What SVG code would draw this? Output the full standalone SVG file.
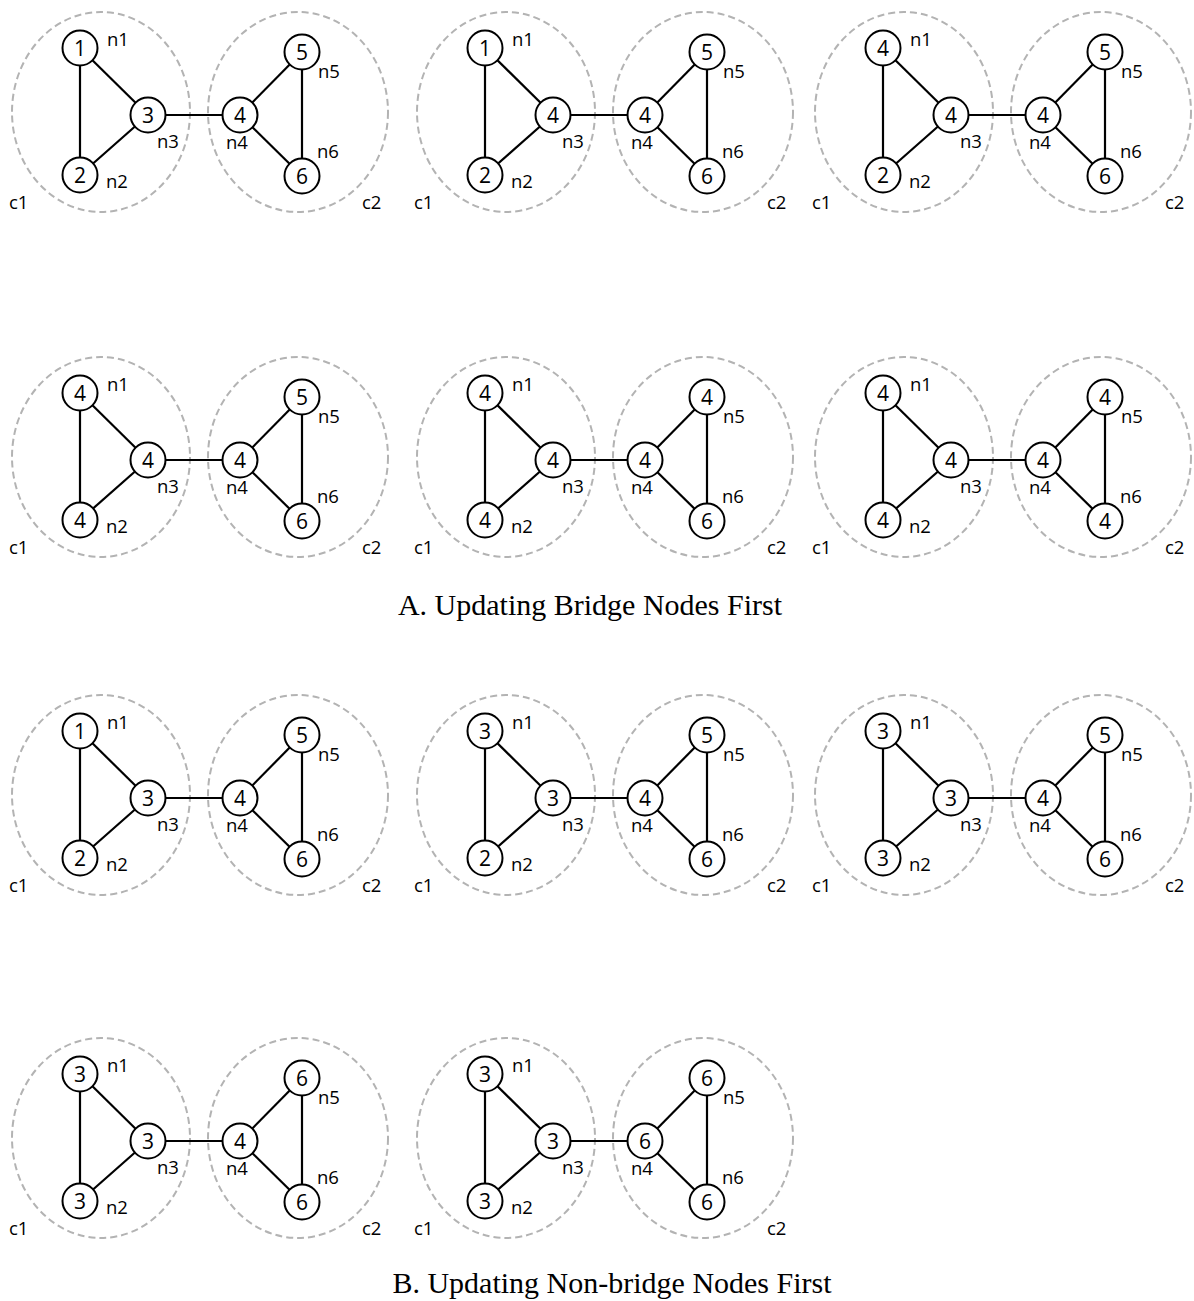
<svg xmlns="http://www.w3.org/2000/svg" xmlns:xlink="http://www.w3.org/1999/xlink" width="1194" height="1301" viewBox="0 0 1194 1301">
<style>
.cl{fill:none;stroke:#b3b3b3;stroke-width:2;stroke-dasharray:7 4}
.e{stroke:#000;stroke-width:2.2}
.n{fill:#fff;stroke:#000;stroke-width:2}
.v{font-family:"Open Sans","Liberation Sans",sans-serif;font-size:21px;text-anchor:middle;dominant-baseline:central;fill:#000}
.l{font-family:"Open Sans","Liberation Sans",sans-serif;font-size:18.5px;fill:#000}
.cap{font-family:"Liberation Serif",serif;font-size:30px;text-anchor:middle;fill:#000}
</style>
<defs>
<g id="base">
<ellipse class="cl" cx="101" cy="112" rx="89" ry="100"/>
<ellipse class="cl" cx="298" cy="112" rx="90" ry="100"/>
<text class="l" x="9" y="209">c1</text>
<text class="l" x="362" y="209">c2</text>
<text class="l" x="107" y="46">n1</text>
<text class="l" x="106" y="188">n2</text>
<text class="l" x="157" y="148">n3</text>
<text class="l" x="226" y="149">n4</text>
<text class="l" x="318" y="78">n5</text>
<text class="l" x="317" y="158">n6</text>
</g>
<g id="edges">
<line class="e" x1="80" y1="48" x2="80" y2="175"/>
<line class="e" x1="80" y1="48" x2="148" y2="115"/>
<line class="e" x1="80" y1="175" x2="148" y2="115"/>
<line class="e" x1="148" y1="115" x2="240" y2="115"/>
<line class="e" x1="240" y1="115" x2="302" y2="52"/>
<line class="e" x1="240" y1="115" x2="302" y2="176"/>
<line class="e" x1="302" y1="52" x2="302" y2="176"/>
</g>
</defs>

<!-- Row 1 -->
<g id="p1" transform="translate(0,0)">
<use xlink:href="#base"/>
<g id="p1-connectors"><use xlink:href="#edges"/></g>
<g id="p1-n1"><circle class="n" cx="80" cy="48" r="17.5"/><text class="v" x="80" y="48">1</text></g>
<g id="p1-n2"><circle class="n" cx="80" cy="175" r="17.5"/><text class="v" x="80" y="175">2</text></g>
<g id="p1-n3"><circle class="n" cx="148" cy="115" r="17.5"/><text class="v" x="148" y="115">3</text></g>
<g id="p1-n4"><circle class="n" cx="240" cy="115" r="17.5"/><text class="v" x="240" y="115">4</text></g>
<g id="p1-n5"><circle class="n" cx="302" cy="52" r="17.5"/><text class="v" x="302" y="52">5</text></g>
<g id="p1-n6"><circle class="n" cx="302" cy="176" r="17.5"/><text class="v" x="302" y="176">6</text></g>
</g>
<g id="p2" transform="translate(405,0)">
<use xlink:href="#base"/>
<g id="p2-connectors"><use xlink:href="#edges"/></g>
<g id="p2-n1"><circle class="n" cx="80" cy="48" r="17.5"/><text class="v" x="80" y="48">1</text></g>
<g id="p2-n2"><circle class="n" cx="80" cy="175" r="17.5"/><text class="v" x="80" y="175">2</text></g>
<g id="p2-n3"><circle class="n" cx="148" cy="115" r="17.5"/><text class="v" x="148" y="115">4</text></g>
<g id="p2-n4"><circle class="n" cx="240" cy="115" r="17.5"/><text class="v" x="240" y="115">4</text></g>
<g id="p2-n5"><circle class="n" cx="302" cy="52" r="17.5"/><text class="v" x="302" y="52">5</text></g>
<g id="p2-n6"><circle class="n" cx="302" cy="176" r="17.5"/><text class="v" x="302" y="176">6</text></g>
</g>
<g id="p3" transform="translate(803,0)">
<use xlink:href="#base"/>
<g id="p3-connectors"><use xlink:href="#edges"/></g>
<g id="p3-n1"><circle class="n" cx="80" cy="48" r="17.5"/><text class="v" x="80" y="48">4</text></g>
<g id="p3-n2"><circle class="n" cx="80" cy="175" r="17.5"/><text class="v" x="80" y="175">2</text></g>
<g id="p3-n3"><circle class="n" cx="148" cy="115" r="17.5"/><text class="v" x="148" y="115">4</text></g>
<g id="p3-n4"><circle class="n" cx="240" cy="115" r="17.5"/><text class="v" x="240" y="115">4</text></g>
<g id="p3-n5"><circle class="n" cx="302" cy="52" r="17.5"/><text class="v" x="302" y="52">5</text></g>
<g id="p3-n6"><circle class="n" cx="302" cy="176" r="17.5"/><text class="v" x="302" y="176">6</text></g>
</g>

<!-- Row 2 -->
<g id="p4" transform="translate(0,345)">
<use xlink:href="#base"/>
<g id="p4-connectors"><use xlink:href="#edges"/></g>
<g id="p4-n1"><circle class="n" cx="80" cy="48" r="17.5"/><text class="v" x="80" y="48">4</text></g>
<g id="p4-n2"><circle class="n" cx="80" cy="175" r="17.5"/><text class="v" x="80" y="175">4</text></g>
<g id="p4-n3"><circle class="n" cx="148" cy="115" r="17.5"/><text class="v" x="148" y="115">4</text></g>
<g id="p4-n4"><circle class="n" cx="240" cy="115" r="17.5"/><text class="v" x="240" y="115">4</text></g>
<g id="p4-n5"><circle class="n" cx="302" cy="52" r="17.5"/><text class="v" x="302" y="52">5</text></g>
<g id="p4-n6"><circle class="n" cx="302" cy="176" r="17.5"/><text class="v" x="302" y="176">6</text></g>
</g>
<g id="p5" transform="translate(405,345)">
<use xlink:href="#base"/>
<g id="p5-connectors"><use xlink:href="#edges"/></g>
<g id="p5-n1"><circle class="n" cx="80" cy="48" r="17.5"/><text class="v" x="80" y="48">4</text></g>
<g id="p5-n2"><circle class="n" cx="80" cy="175" r="17.5"/><text class="v" x="80" y="175">4</text></g>
<g id="p5-n3"><circle class="n" cx="148" cy="115" r="17.5"/><text class="v" x="148" y="115">4</text></g>
<g id="p5-n4"><circle class="n" cx="240" cy="115" r="17.5"/><text class="v" x="240" y="115">4</text></g>
<g id="p5-n5"><circle class="n" cx="302" cy="52" r="17.5"/><text class="v" x="302" y="52">4</text></g>
<g id="p5-n6"><circle class="n" cx="302" cy="176" r="17.5"/><text class="v" x="302" y="176">6</text></g>
</g>
<g id="p6" transform="translate(803,345)">
<use xlink:href="#base"/>
<g id="p6-connectors"><use xlink:href="#edges"/></g>
<g id="p6-n1"><circle class="n" cx="80" cy="48" r="17.5"/><text class="v" x="80" y="48">4</text></g>
<g id="p6-n2"><circle class="n" cx="80" cy="175" r="17.5"/><text class="v" x="80" y="175">4</text></g>
<g id="p6-n3"><circle class="n" cx="148" cy="115" r="17.5"/><text class="v" x="148" y="115">4</text></g>
<g id="p6-n4"><circle class="n" cx="240" cy="115" r="17.5"/><text class="v" x="240" y="115">4</text></g>
<g id="p6-n5"><circle class="n" cx="302" cy="52" r="17.5"/><text class="v" x="302" y="52">4</text></g>
<g id="p6-n6"><circle class="n" cx="302" cy="176" r="17.5"/><text class="v" x="302" y="176">4</text></g>
</g>

<text class="cap" x="590" y="615">A. Updating Bridge Nodes First</text>

<!-- Row 3 -->
<g id="p7" transform="translate(0,683)">
<use xlink:href="#base"/>
<g id="p7-connectors"><use xlink:href="#edges"/></g>
<g id="p7-n1"><circle class="n" cx="80" cy="48" r="17.5"/><text class="v" x="80" y="48">1</text></g>
<g id="p7-n2"><circle class="n" cx="80" cy="175" r="17.5"/><text class="v" x="80" y="175">2</text></g>
<g id="p7-n3"><circle class="n" cx="148" cy="115" r="17.5"/><text class="v" x="148" y="115">3</text></g>
<g id="p7-n4"><circle class="n" cx="240" cy="115" r="17.5"/><text class="v" x="240" y="115">4</text></g>
<g id="p7-n5"><circle class="n" cx="302" cy="52" r="17.5"/><text class="v" x="302" y="52">5</text></g>
<g id="p7-n6"><circle class="n" cx="302" cy="176" r="17.5"/><text class="v" x="302" y="176">6</text></g>
</g>
<g id="p8" transform="translate(405,683)">
<use xlink:href="#base"/>
<g id="p8-connectors"><use xlink:href="#edges"/></g>
<g id="p8-n1"><circle class="n" cx="80" cy="48" r="17.5"/><text class="v" x="80" y="48">3</text></g>
<g id="p8-n2"><circle class="n" cx="80" cy="175" r="17.5"/><text class="v" x="80" y="175">2</text></g>
<g id="p8-n3"><circle class="n" cx="148" cy="115" r="17.5"/><text class="v" x="148" y="115">3</text></g>
<g id="p8-n4"><circle class="n" cx="240" cy="115" r="17.5"/><text class="v" x="240" y="115">4</text></g>
<g id="p8-n5"><circle class="n" cx="302" cy="52" r="17.5"/><text class="v" x="302" y="52">5</text></g>
<g id="p8-n6"><circle class="n" cx="302" cy="176" r="17.5"/><text class="v" x="302" y="176">6</text></g>
</g>
<g id="p9" transform="translate(803,683)">
<use xlink:href="#base"/>
<g id="p9-connectors"><use xlink:href="#edges"/></g>
<g id="p9-n1"><circle class="n" cx="80" cy="48" r="17.5"/><text class="v" x="80" y="48">3</text></g>
<g id="p9-n2"><circle class="n" cx="80" cy="175" r="17.5"/><text class="v" x="80" y="175">3</text></g>
<g id="p9-n3"><circle class="n" cx="148" cy="115" r="17.5"/><text class="v" x="148" y="115">3</text></g>
<g id="p9-n4"><circle class="n" cx="240" cy="115" r="17.5"/><text class="v" x="240" y="115">4</text></g>
<g id="p9-n5"><circle class="n" cx="302" cy="52" r="17.5"/><text class="v" x="302" y="52">5</text></g>
<g id="p9-n6"><circle class="n" cx="302" cy="176" r="17.5"/><text class="v" x="302" y="176">6</text></g>
</g>

<!-- Row 4 -->
<g id="p10" transform="translate(0,1026)">
<use xlink:href="#base"/>
<g id="p10-connectors"><use xlink:href="#edges"/></g>
<g id="p10-n1"><circle class="n" cx="80" cy="48" r="17.5"/><text class="v" x="80" y="48">3</text></g>
<g id="p10-n2"><circle class="n" cx="80" cy="175" r="17.5"/><text class="v" x="80" y="175">3</text></g>
<g id="p10-n3"><circle class="n" cx="148" cy="115" r="17.5"/><text class="v" x="148" y="115">3</text></g>
<g id="p10-n4"><circle class="n" cx="240" cy="115" r="17.5"/><text class="v" x="240" y="115">4</text></g>
<g id="p10-n5"><circle class="n" cx="302" cy="52" r="17.5"/><text class="v" x="302" y="52">6</text></g>
<g id="p10-n6"><circle class="n" cx="302" cy="176" r="17.5"/><text class="v" x="302" y="176">6</text></g>
</g>
<g id="p11" transform="translate(405,1026)">
<use xlink:href="#base"/>
<g id="p11-connectors"><use xlink:href="#edges"/></g>
<g id="p11-n1"><circle class="n" cx="80" cy="48" r="17.5"/><text class="v" x="80" y="48">3</text></g>
<g id="p11-n2"><circle class="n" cx="80" cy="175" r="17.5"/><text class="v" x="80" y="175">3</text></g>
<g id="p11-n3"><circle class="n" cx="148" cy="115" r="17.5"/><text class="v" x="148" y="115">3</text></g>
<g id="p11-n4"><circle class="n" cx="240" cy="115" r="17.5"/><text class="v" x="240" y="115">6</text></g>
<g id="p11-n5"><circle class="n" cx="302" cy="52" r="17.5"/><text class="v" x="302" y="52">6</text></g>
<g id="p11-n6"><circle class="n" cx="302" cy="176" r="17.5"/><text class="v" x="302" y="176">6</text></g>
</g>

<text class="cap" x="612" y="1293">B. Updating Non-bridge Nodes First</text>
</svg>
